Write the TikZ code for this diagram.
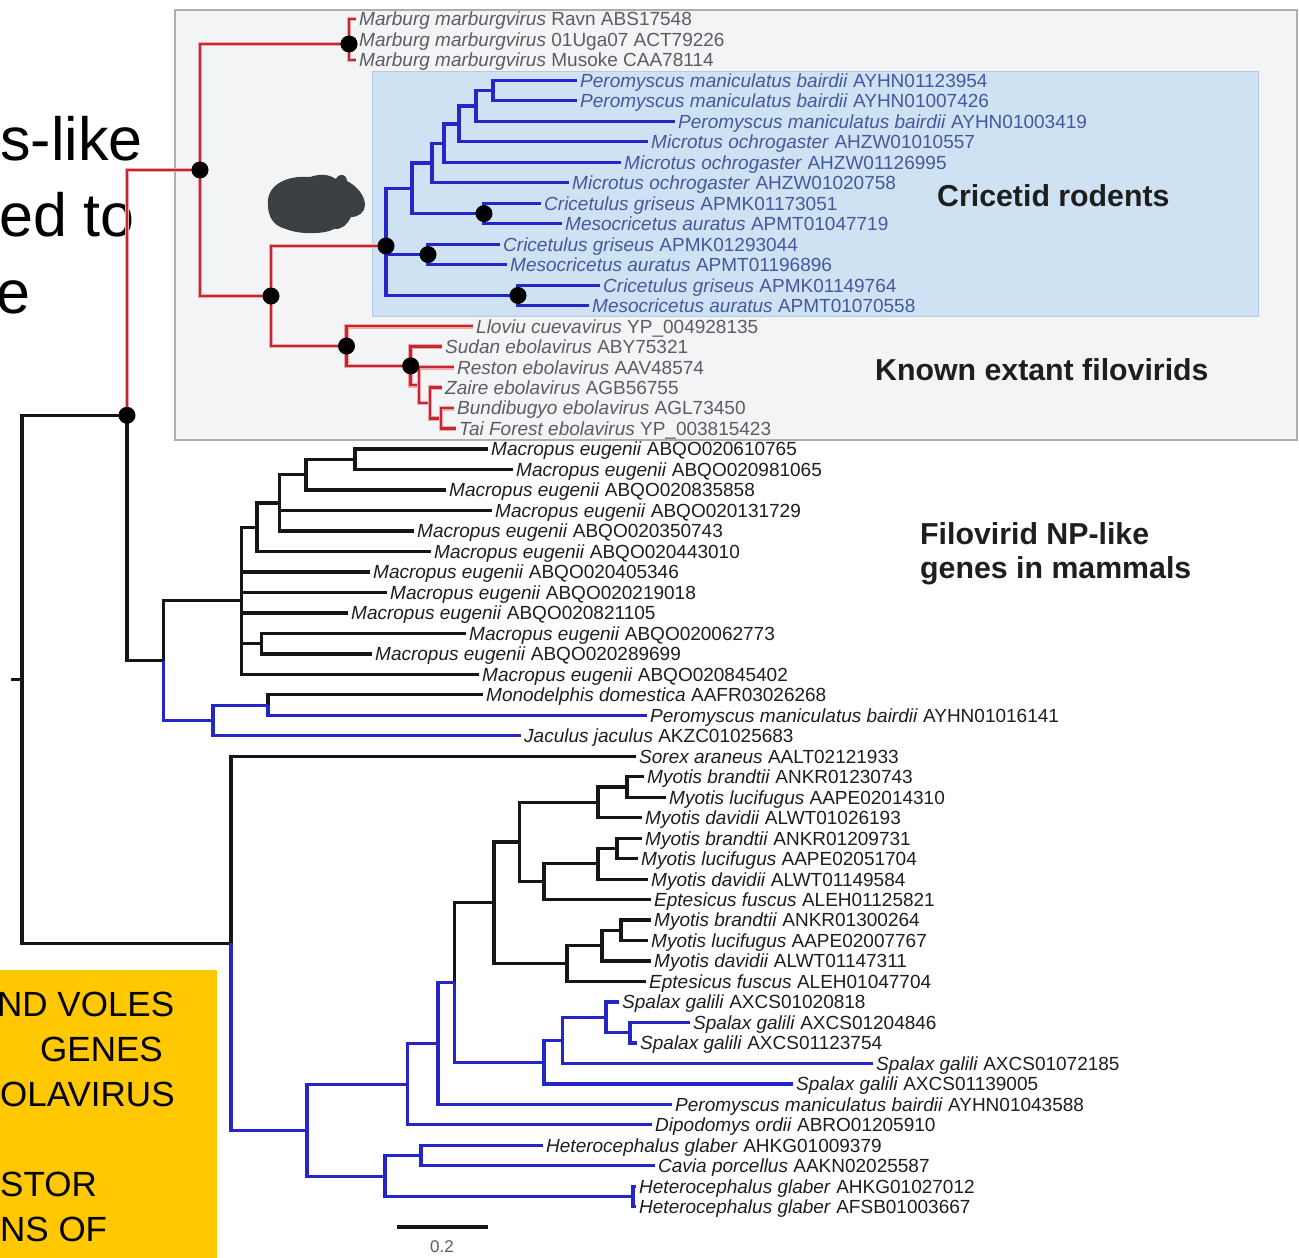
\documentclass[tikz,border=0pt]{standalone}
\usepackage{fontspec}
\setmainfont{Liberation Sans}
\definecolor{brblack}{RGB}{22,22,22}
\definecolor{brblue}{RGB}{38,38,200}
\definecolor{brred}{RGB}{195,40,50}
\definecolor{brhalo}{RGB}{238,168,172}
\definecolor{labdark}{RGB}{30,30,30}
\definecolor{labgray}{RGB}{92,92,98}
\definecolor{labblue}{RGB}{66,90,155}
\definecolor{panelgray}{RGB}{243,244,246}
\definecolor{panelline}{RGB}{172,174,178}
\definecolor{panelblue}{RGB}{207,226,244}
\definecolor{panelblueline}{RGB}{182,202,226}
\definecolor{rodentfill}{RGB}{60,64,67}
\definecolor{notefill}{RGB}{255,200,0}
\begin{document}
\begin{tikzpicture}[x=1pt,y=-1pt,
  lab/.style={anchor=west,inner xsep=3pt,inner ysep=0pt,
    font=\fontsize{19}{20}\selectfont,text height=13.6pt,text depth=0pt,text=labdark},
  filolab/.style={lab,text=labgray},
  crilab/.style={lab,text=labblue},
  blk/.style={draw=brblack,line width=3.3pt},
  blu/.style={draw=brblue,line width=3.1pt},
  filobr/.style={draw=brred,line width=2.5pt,preaction={draw=brhalo,line width=4.8pt}},
  clade/.style={anchor=base west,inner sep=0pt,font=\fontsize{30.3}{35}\selectfont\bfseries,text=labdark},
  slide/.style={inner sep=0pt,font=\fontsize{61}{70}\selectfont,text=black},
  notetext/.style={anchor=base west,inner sep=0pt,font=\fontsize{35}{45}\selectfont,text=black}
]
\useasboundingbox (0,0) rectangle (1299,1258);
\fill[white] (0,0) rectangle (1299,1258);

% panels
\filldraw[fill=panelgray,draw=panelline,line width=1.4pt] (175,10) rectangle (1297,440);
\filldraw[fill=panelblue,draw=panelblueline,line width=1pt] (372,71) rectangle (1258,316);

% rodent silhouette
\fill[rodentfill] (268,205) .. controls (266,186) and (285,175) .. (310,177)
  .. controls (322,173) and (330,175) .. (336,179)
  .. controls (339,173) and (346,173) .. (347,181)
  .. controls (357,186) and (365,196) .. (365,205)
  .. controls (365,212) and (359,217) .. (351,217)
  .. controls (347,225) and (341,230) .. (334,229)
  .. controls (326,234) and (300,235) .. (286,229)
  .. controls (273,226) and (268,216) .. (268,205) -- cycle;

% clipped slide text on the left
\node[slide,anchor=base east] (s1) at (143,160) {s-like};
\node[slide,anchor=base east] (s2) at (135,236) {ed to};
\node[slide,anchor=base east] (s3) at (31,313) {e};

% yellow note
\fill[notefill] (0,970) rectangle (217,1258);
\node[notetext] (y1) at (-3,1016) {ND VOLES};
\node[notetext] (y2) at (40,1061) {GENES};
\node[notetext] (y3) at (0,1106) {OLAVIRUS};
\node[notetext] (y4) at (0,1196) {STOR};
\node[notetext] (y5) at (0,1241) {NS OF};

% leaf labels
\node[filolab] (l1) at (356,19.0) {\textit{Marburg marburgvirus} Ravn ABS17548};
\node[filolab] (l2) at (356,39.5) {\textit{Marburg marburgvirus} 01Uga07 ACT79226};
\node[filolab] (l3) at (356,60.0) {\textit{Marburg marburgvirus} Musoke CAA78114};
\node[crilab] (l4) at (577,80.4) {\textit{Peromyscus maniculatus bairdii} AYHN01123954};
\node[crilab] (l5) at (577,100.9) {\textit{Peromyscus maniculatus bairdii} AYHN01007426};
\node[crilab] (l6) at (675,121.4) {\textit{Peromyscus maniculatus bairdii} AYHN01003419};
\node[crilab] (l7) at (648,141.9) {\textit{Microtus ochrogaster} AHZW01010557};
\node[crilab] (l8) at (621,162.4) {\textit{Microtus ochrogaster} AHZW01126995};
\node[crilab] (l9) at (569,182.8) {\textit{Microtus ochrogaster} AHZW01020758};
\node[crilab] (l10) at (541,203.3) {\textit{Cricetulus griseus} APMK01173051};
\node[crilab] (l11) at (562,223.8) {\textit{Mesocricetus auratus} APMT01047719};
\node[crilab] (l12) at (500,244.3) {\textit{Cricetulus griseus} APMK01293044};
\node[crilab] (l13) at (507,264.8) {\textit{Mesocricetus auratus} APMT01196896};
\node[crilab] (l14) at (600,285.2) {\textit{Cricetulus griseus} APMK01149764};
\node[crilab] (l15) at (589,305.7) {\textit{Mesocricetus auratus} APMT01070558};
\node[filolab] (l16) at (473,326.2) {\textit{Lloviu cuevavirus} YP\_004928135};
\node[filolab] (l17) at (442,346.7) {\textit{Sudan ebolavirus} ABY75321};
\node[filolab] (l18) at (454,367.2) {\textit{Reston ebolavirus} AAV48574};
\node[filolab] (l19) at (442,387.6) {\textit{Zaire ebolavirus} AGB56755};
\node[filolab] (l20) at (454,408.1) {\textit{Bundibugyo ebolavirus} AGL73450};
\node[filolab] (l21) at (456,428.6) {\textit{Tai Forest ebolavirus} YP\_003815423};
\node[lab] (l22) at (488,449.1) {\textit{Macropus eugenii} ABQO020610765};
\node[lab] (l23) at (513,469.6) {\textit{Macropus eugenii} ABQO020981065};
\node[lab] (l24) at (446,490.0) {\textit{Macropus eugenii} ABQO020835858};
\node[lab] (l25) at (492,510.5) {\textit{Macropus eugenii} ABQO020131729};
\node[lab] (l26) at (414,531.0) {\textit{Macropus eugenii} ABQO020350743};
\node[lab] (l27) at (431,551.5) {\textit{Macropus eugenii} ABQO020443010};
\node[lab] (l28) at (370,572.0) {\textit{Macropus eugenii} ABQO020405346};
\node[lab] (l29) at (387,592.4) {\textit{Macropus eugenii} ABQO020219018};
\node[lab] (l30) at (348,612.9) {\textit{Macropus eugenii} ABQO020821105};
\node[lab] (l31) at (466,633.4) {\textit{Macropus eugenii} ABQO020062773};
\node[lab] (l32) at (372,653.9) {\textit{Macropus eugenii} ABQO020289699};
\node[lab] (l33) at (479,674.4) {\textit{Macropus eugenii} ABQO020845402};
\node[lab] (l34) at (483,694.8) {\textit{Monodelphis domestica} AAFR03026268};
\node[lab] (l35) at (647,715.3) {\textit{Peromyscus maniculatus bairdii} AYHN01016141};
\node[lab] (l36) at (521,735.8) {\textit{Jaculus jaculus} AKZC01025683};
\node[lab] (l37) at (636,756.3) {\textit{Sorex araneus} AALT02121933};
\node[lab] (l38) at (644,776.8) {\textit{Myotis brandtii} ANKR01230743};
\node[lab] (l39) at (666,797.2) {\textit{Myotis lucifugus} AAPE02014310};
\node[lab] (l40) at (642,817.7) {\textit{Myotis davidii} ALWT01026193};
\node[lab] (l41) at (642,838.2) {\textit{Myotis brandtii} ANKR01209731};
\node[lab] (l42) at (638,858.7) {\textit{Myotis lucifugus} AAPE02051704};
\node[lab] (l43) at (648,879.2) {\textit{Myotis davidii} ALWT01149584};
\node[lab] (l44) at (651,899.6) {\textit{Eptesicus fuscus} ALEH01125821};
\node[lab] (l45) at (651,920.1) {\textit{Myotis brandtii} ANKR01300264};
\node[lab] (l46) at (648,940.6) {\textit{Myotis lucifugus} AAPE02007767};
\node[lab] (l47) at (651,961.1) {\textit{Myotis davidii} ALWT01147311};
\node[lab] (l48) at (646,981.6) {\textit{Eptesicus fuscus} ALEH01047704};
\node[lab] (l49) at (619,1002.0) {\textit{Spalax galili} AXCS01020818};
\node[lab] (l50) at (690,1022.5) {\textit{Spalax galili} AXCS01204846};
\node[lab] (l51) at (637,1043.0) {\textit{Spalax galili} AXCS01123754};
\node[lab] (l52) at (873,1063.5) {\textit{Spalax galili} AXCS01072185};
\node[lab] (l53) at (793,1084.0) {\textit{Spalax galili} AXCS01139005};
\node[lab] (l54) at (672,1104.4) {\textit{Peromyscus maniculatus bairdii} AYHN01043588};
\node[lab] (l55) at (652,1124.9) {\textit{Dipodomys ordii} ABRO01205910};
\node[lab] (l56) at (543,1145.4) {\textit{Heterocephalus glaber} AHKG01009379};
\node[lab] (l57) at (655,1165.9) {\textit{Cavia porcellus} AAKN02025587};
\node[lab] (l58) at (636,1186.4) {\textit{Heterocephalus glaber} AHKG01027012};
\node[lab] (l59) at (636,1206.8) {\textit{Heterocephalus glaber} AFSB01003667};

% internal nodes
\coordinate (rootstub) at (11,679.2);
\coordinate (root) at (22,679.2);
\coordinate (n127) at (127,415.3);
\coordinate (n200) at (200,170);
\coordinate (nMarb) at (349,44);
\coordinate (n271) at (271,296);
\coordinate (nR) at (386,246);
\coordinate (nA) at (412,188.3);
\coordinate (nM3) at (432,163.0);
\coordinate (nM2) at (444,143.2);
\coordinate (nM1) at (459,124.0);
\coordinate (nP123) at (476,106.0);
\coordinate (nP12) at (493,90.65);
\coordinate (nC1) at (484,213.55);
\coordinate (nC2) at (428,254.55);
\coordinate (nC3) at (518,295.45);
\coordinate (nE1) at (346.5,346.05);
\coordinate (nE2) at (410.7,365.9);
\coordinate (nX) at (419,385.1);
\coordinate (nZ) at (430,403.0);
\coordinate (nBT) at (441,418.35);
\coordinate (nB0) at (163.4,660.6);
\coordinate (nT) at (241.5,600.8);
\coordinate (n257) at (257,527.2);
\coordinate (n279) at (279.5,502.85);
\coordinate (n306) at (306,474.7);
\coordinate (n355) at (355,459.35);
\coordinate (n261) at (261.6,643.65);
\coordinate (n213) at (213,720.4);
\coordinate (n268) at (268,705.05);
\coordinate (nL0) at (231,943.2);
\coordinate (n307) at (307,1130.15);
\coordinate (n407) at (407.6,1084.2);
\coordinate (n438) at (438,1043.45);
\coordinate (n455) at (454.7,982.5);
\coordinate (n494) at (494,902.8);
\coordinate (n519) at (519.5,842.0);
\coordinate (n598) at (598,802.35);
\coordinate (n627) at (627,787.0);
\coordinate (n544b) at (544,881.7);
\coordinate (n598b) at (598,863.8);
\coordinate (n617) at (617,848.45);
\coordinate (n567) at (567,963.65);
\coordinate (n602) at (602,945.7);
\coordinate (n621) at (621,930.35);
\coordinate (n544) at (544,1062.2);
\coordinate (n562) at (562.6,1040.45);
\coordinate (n606) at (606,1017.4);
\coordinate (n630) at (630,1032.75);
\coordinate (n385) at (385,1176.1);
\coordinate (n421) at (421,1155.65);
\coordinate (n633) at (633,1196.6);

% black branches
\draw[blk] (rootstub) -- (root);
\draw[blk] (root) |- (n127) (root) |- (nL0);
\draw[blk] (n127) |- (nB0) (nB0) |- (nT);
\draw[blk] (nT) |- (n257) (nT) |- (l28) (nT) |- (l29) (nT) |- (l30) (nT) |- (n261) (nT) |- (l33);
\draw[blk] (n257) |- (n279) (n257) |- (l27);
\draw[blk] (n279) |- (n306) (n279) |- (l25) (n279) |- (l26);
\draw[blk] (n306) |- (n355) (n306) |- (l24);
\draw[blk] (n355) |- (l22) (n355) |- (l23);
\draw[blk] (n261) |- (l31) (n261) |- (l32);
\draw[blk] (n268) |- (l34);
\draw[blk] (nL0) |- (l37);
\draw[blk] (n455) |- (n494);
\draw[blk] (n494) |- (n519) (n494) |- (n567);
\draw[blk] (n519) |- (n598) (n519) |- (n544b);
\draw[blk] (n598) |- (n627) (n598) |- (l40);
\draw[blk] (n627) |- (l38) (n627) |- (l39);
\draw[blk] (n544b) |- (n598b) (n544b) |- (l44);
\draw[blk] (n598b) |- (n617) (n598b) |- (l43);
\draw[blk] (n617) |- (l41) (n617) |- (l42);
\draw[blk] (n567) |- (n602) (n567) |- (l48);
\draw[blk] (n602) |- (n621) (n602) |- (l47);
\draw[blk] (n621) |- (l45) (n621) |- (l46);

% blue branches
\draw[blu] (nB0) |- (n213);
\draw[blu] (n213) |- (n268) (n213) |- (l36);
\draw[blu] (n268) |- (l35);
\draw[blu] (nL0) |- (n307);
\draw[blu] (n307) |- (n407) (n307) |- (n385);
\draw[blu] (n407) |- (n438) (n407) |- (l55);
\draw[blu] (n438) |- (n455) (n438) |- (l54);
\draw[blu] (n455) |- (n544);
\draw[blu] (n544) |- (n562) (n544) |- (l53);
\draw[blu] (n562) |- (n606) (n562) |- (l52);
\draw[blu] (n606) |- (l49) (n606) |- (n630);
\draw[blu] (n630) |- (l50) (n630) |- (l51);
\draw[blu] (n385) |- (n421) (n385) |- (n633);
\draw[blu] (n421) |- (l56) (n421) |- (l57);
\draw[blu] (n633) |- (l58) (n633) |- (l59);
\draw[blu] (nR) |- (nA) (nR) |- (nC2) (nR) |- (nC3);
\draw[blu] (nA) |- (nM3) (nA) |- (nC1);
\draw[blu] (nM3) |- (nM2) (nM3) |- (l9);
\draw[blu] (nM2) |- (nM1) (nM2) |- (l8);
\draw[blu] (nM1) |- (nP123) (nM1) |- (l7);
\draw[blu] (nP123) |- (nP12) (nP123) |- (l6);
\draw[blu] (nP12) |- (l4) (nP12) |- (l5);
\draw[blu] (nC1) |- (l10) (nC1) |- (l11);
\draw[blu] (nC2) |- (l12) (nC2) |- (l13);
\draw[blu] (nC3) |- (l14) (nC3) |- (l15);

% filovirus branches
\draw[filobr] (n127) |- (n200);
\draw[filobr] (n200) |- (nMarb) (n200) |- (n271);
\draw[filobr] (nMarb) |- (l1) (nMarb) |- (l2) (nMarb) |- (l3);
\draw[filobr] (n271) |- (nR) (n271) |- (nE1);
\draw[filobr] (nE1) |- (l16) (nE1) |- (nE2);
\draw[filobr] (nE2) |- (l17) (nE2) |- (nX);
\draw[filobr] (nX) |- (l18) (nX) |- (nZ);
\draw[filobr] (nZ) |- (l19) (nZ) |- (nBT);
\draw[filobr] (nBT) |- (l20) (nBT) |- (l21);

% supported nodes
\foreach \n in {n127,n200,nMarb,n271,nR,nC1,nC2,nC3,nE1,nE2}
  \fill[black] (\n) circle (8.5pt);

% clade captions
\node[clade] (cap1) at (937,206) {Cricetid rodents};
\node[clade] (cap2) at (875,380) {Known extant filovirids};
\node[clade] (cap3) at (920,544) {Filovirid NP-like};
\node[clade] (cap4) at (920,578) {genes in mammals};

% scale bar
\coordinate (sbl) at (397,1227);
\coordinate (sbr) at (488,1227);
\draw[brblack,line width=4pt] (sbl) -- (sbr);
\node[font=\fontsize{17}{18}\selectfont,text=labgray] (sbt) at (442,1247) {0.2};
\end{tikzpicture}
\end{document}
